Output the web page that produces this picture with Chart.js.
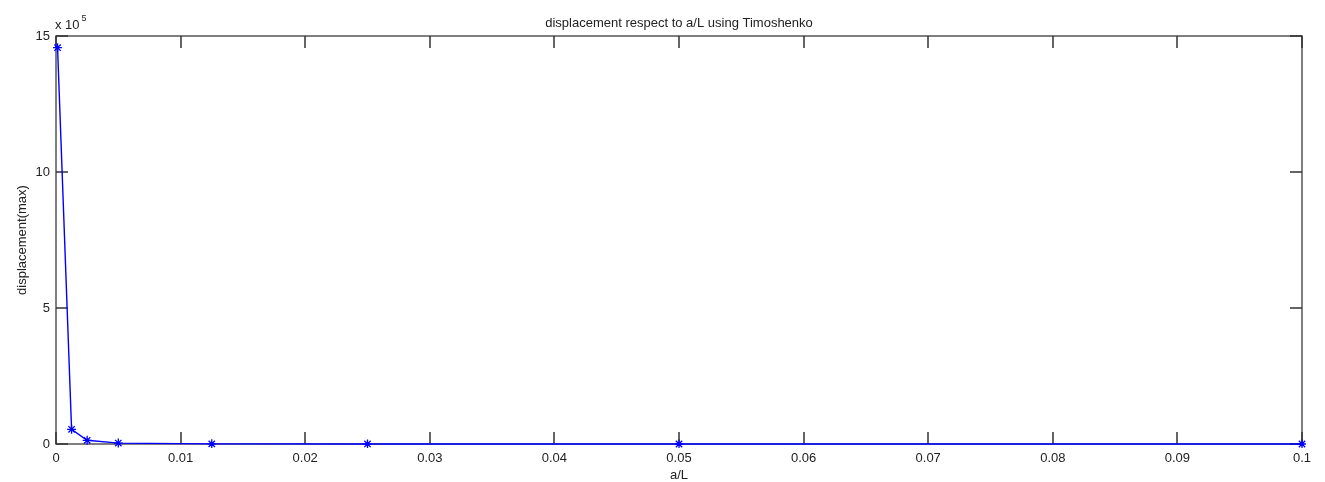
<!DOCTYPE html>
<html>
<head>
<meta charset="utf-8">
<script src="https://cdn.jsdelivr.net/npm/chart.js@4/dist/chart.umd.min.js"></script>
<style>
  html, body { margin: 0; padding: 0; background: #fff; }
  #wrap { width: 1325px; height: 482px; }
</style>
</head>
<body>
<div id="wrap"><canvas id="chart"></canvas></div>
<script>
// a/L values and max displacement
const aOverL = [0.000125, 0.00125, 0.0025, 0.005, 0.0125, 0.025, 0.05, 0.1];
const displacement = [1457000, 54000, 13600, 3400, 550, 140, 35, 9];

const xTicks = [0, 0.01, 0.02, 0.03, 0.04, 0.05, 0.06, 0.07, 0.08, 0.09, 0.1];
const yTicks = [0, 500000, 1000000, 1500000];
const yExponent = 5;

const FONT = "'Liberation Sans', Arial, sans-serif";
const points = aOverL.map((x, i) => ({ x: x, y: displacement[i] }));

// matlab style box + inward ticks (under the line) and "x 10^5" label
const matlabBox = {
  id: 'matlabBox',
  beforeDatasetsDraw(chart) {
    const c = chart.ctx;
    const a = chart.chartArea;
    const xs = chart.scales.x;
    const ys = chart.scales.y;
    const tl = 12;
    c.save();
    c.strokeStyle = '#555';
    c.lineWidth = 1.5;
    c.strokeRect(a.left, a.top, a.right - a.left, a.bottom - a.top);
    c.strokeStyle = '#333';
    c.beginPath();
    xTicks.forEach(v => {
      const px = Math.round(xs.getPixelForValue(v));
      c.moveTo(px, a.bottom); c.lineTo(px, a.bottom - tl);
      c.moveTo(px, a.top); c.lineTo(px, a.top + tl);
    });
    yTicks.forEach(v => {
      const py = Math.round(ys.getPixelForValue(v));
      c.moveTo(a.left, py); c.lineTo(a.left + tl, py);
      c.moveTo(a.right, py); c.lineTo(a.right - tl, py);
    });
    c.stroke();
    c.restore();
  },
  afterDraw(chart) {
    const c = chart.ctx;
    const a = chart.chartArea;
    c.save();
    c.fillStyle = '#222';
    c.font = '13px ' + FONT;
    c.textBaseline = 'alphabetic';
    c.textAlign = 'left';
    c.fillText('x 10', a.left - 1, a.top - 7);
    const w = c.measureText('x 10').width;
    c.font = '9px ' + FONT;
    c.fillText(String(yExponent), a.left + w + 1, a.top - 15);
    c.restore();
  }
};

new Chart(document.getElementById('chart'), {
  type: 'scatter',
  data: {
    datasets: [{
      data: points,
      showLine: true,
      clip: 4,
      borderColor: '#0000ff',
      backgroundColor: '#0000ff',
      borderWidth: 1.4,
      pointStyle: 'star',
      pointRadius: 4.5,
      pointBorderWidth: 1.3,
      pointBorderColor: '#0000ff',
      tension: 0
    }]
  },
  plugins: [matlabBox],
  options: {
    responsive: true,
    maintainAspectRatio: false,
    animation: false,
    layout: { padding: { top: 0, right: 23, left: 0, bottom: 0 } },
    plugins: {
      legend: { display: false },
      tooltip: { enabled: false },
      title: {
        display: true,
        text: 'displacement respect to a/L using Timoshenko',
        fullSize: false,
        color: '#222',
        font: { family: FONT, size: 13, weight: 'normal' },
        padding: { top: 16, bottom: 4.4 }
      }
    },
    scales: {
      x: {
        type: 'linear',
        min: 0,
        max: 0.1,
        afterFit: s => { s.height = 38; },
        afterBuildTicks: s => { s.ticks = xTicks.map(v => ({ value: v })); },
        grid: { display: false, drawTicks: false },
        border: { display: false },
        ticks: {
          padding: 7,
          color: '#222',
          font: { family: FONT, size: 13 },
          maxRotation: 0,
          autoSkip: false,
          callback: v => String(Number(v.toFixed(2)))
        },
        title: {
          display: true,
          text: 'a/L',
          color: '#222',
          font: { family: FONT, size: 13 },
          padding: { top: 0, bottom: -1 }
        }
      },
      y: {
        type: 'linear',
        min: 0,
        max: 1500000,
        afterFit: s => { s.width = 56; },
        afterBuildTicks: s => { s.ticks = yTicks.map(v => ({ value: v })); },
        grid: { display: false, drawTicks: false },
        border: { display: false },
        ticks: {
          padding: 6,
          color: '#222',
          font: { family: FONT, size: 13 },
          callback: v => String(Math.round(v / Math.pow(10, yExponent)))
        },
        title: {
          display: true,
          text: 'displacement(max)',
          color: '#222',
          font: { family: FONT, size: 13 },
          padding: { top: 15, bottom: 0 }
        }
      }
    }
  }
});
</script>
</body>
</html>
